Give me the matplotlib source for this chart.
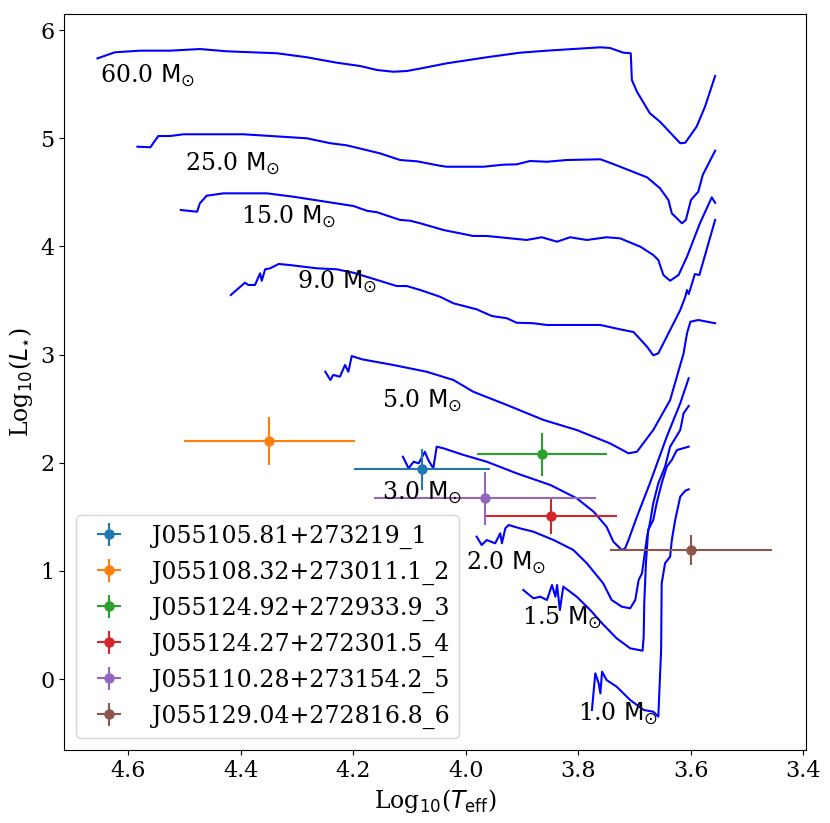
import matplotlib
matplotlib.use("Agg")
import matplotlib.pyplot as plt

plt.rcParams['font.family'] = ['DejaVu Serif']
plt.rcParams['mathtext.fontset'] = 'dejavusans'

# ---------------- evolutionary tracks (log Teff, log L) ----------------
logT_60 = [4.655, 4.624, 4.579, 4.526, 4.473, 4.425, 4.336, 4.283, 4.230, 4.188, 4.158,
           4.129, 4.105, 4.081, 4.034, 3.963, 3.904, 3.856, 3.761, 3.744, 3.720, 3.707,
           3.705, 3.696, 3.673, 3.655, 3.619, 3.610, 3.590, 3.575, 3.557]
logL_60 = [5.738, 5.794, 5.809, 5.809, 5.824, 5.803, 5.785, 5.748, 5.698, 5.667, 5.630,
           5.614, 5.621, 5.644, 5.692, 5.748, 5.790, 5.809, 5.840, 5.834, 5.790, 5.785,
           5.538, 5.430, 5.230, 5.152, 4.953, 4.958, 5.106, 5.291, 5.575]

logT_25 = [4.584, 4.561, 4.547, 4.526, 4.502, 4.396, 4.283, 4.241, 4.212, 4.153, 4.117,
           4.087, 4.046, 4.034, 3.969, 3.933, 3.910, 3.886, 3.856, 3.821, 3.761, 3.738,
           3.678, 3.655, 3.640, 3.634, 3.616, 3.609, 3.600, 3.587, 3.579, 3.557]
logL_25 = [4.921, 4.916, 5.020, 5.020, 5.036, 5.036, 4.999, 4.953, 4.934, 4.860, 4.798,
           4.786, 4.745, 4.736, 4.736, 4.755, 4.758, 4.789, 4.782, 4.798, 4.805, 4.761,
           4.638, 4.537, 4.428, 4.305, 4.213, 4.244, 4.428, 4.505, 4.660, 4.884]

logT_15 = [4.507, 4.478, 4.473, 4.461, 4.431, 4.354, 4.307, 4.200, 4.176, 4.158, 4.117,
           4.099, 4.081, 4.040, 3.987, 3.963, 3.892, 3.865, 3.838, 3.815, 3.785, 3.750,
           3.726, 3.690, 3.667, 3.658, 3.649, 3.637, 3.622, 3.607, 3.584, 3.563, 3.557]
logL_15 = [4.336, 4.320, 4.398, 4.468, 4.490, 4.490, 4.459, 4.373, 4.329, 4.315, 4.244,
           4.237, 4.213, 4.151, 4.096, 4.096, 4.059, 4.084, 4.043, 4.084, 4.059, 4.084,
           4.074, 3.997, 3.920, 3.874, 3.735, 3.682, 3.735, 3.904, 4.213, 4.453, 4.403]

logT_9 = [4.418, 4.393, 4.387, 4.375, 4.366, 4.363, 4.357, 4.348, 4.333, 4.313, 4.265,
          4.230, 4.200, 4.158, 4.123, 4.105, 4.081, 4.046, 4.022, 3.981, 3.954, 3.927,
          3.910, 3.880, 3.856, 3.761, 3.726, 3.702, 3.678, 3.667, 3.658, 3.619, 3.610,
          3.607, 3.604, 3.598, 3.593, 3.585, 3.557]
logL_9 = [3.550, 3.664, 3.643, 3.643, 3.751, 3.682, 3.788, 3.797, 3.837, 3.827, 3.797,
          3.788, 3.756, 3.689, 3.633, 3.633, 3.596, 3.534, 3.473, 3.418, 3.356, 3.335,
          3.294, 3.289, 3.273, 3.273, 3.233, 3.208, 3.072, 2.993, 3.011, 3.411, 3.534,
          3.596, 3.559, 3.658, 3.744, 3.735, 4.244]

logT_5 = [4.250, 4.241, 4.236, 4.224, 4.215, 4.209, 4.203, 4.185, 4.129, 4.070, 4.022,
          3.987, 3.927, 3.862, 3.803, 3.744, 3.711, 3.696, 3.667, 3.637, 3.613, 3.607,
          3.601, 3.587, 3.557]
logL_5 = [2.841, 2.764, 2.811, 2.795, 2.903, 2.841, 2.986, 2.956, 2.903, 2.841, 2.764,
          2.656, 2.533, 2.395, 2.302, 2.179, 2.087, 2.101, 2.302, 2.579, 3.011, 3.196,
          3.303, 3.319, 3.289]

logT_3 = [4.112, 4.102, 4.093, 4.084, 4.073, 4.067, 4.058, 4.052, 4.040, 4.004, 3.963,
          3.910, 3.850, 3.803, 3.773, 3.750, 3.738, 3.723, 3.717, 3.711, 3.696, 3.673,
          3.643, 3.619, 3.604]
logL_3 = [2.055, 1.948, 2.009, 1.994, 2.101, 2.025, 1.948, 2.148, 2.133, 2.071, 2.009,
          1.902, 1.794, 1.671, 1.547, 1.408, 1.270, 1.193, 1.208, 1.285, 1.501, 1.809,
          2.240, 2.549, 2.780]

logT_2 = [3.981, 3.972, 3.963, 3.948, 3.939, 3.936, 3.930, 3.924, 3.904, 3.880, 3.844,
          3.809, 3.785, 3.756, 3.741, 3.723, 3.708, 3.699, 3.693, 3.687, 3.678, 3.673,
          3.667, 3.658, 3.646, 3.637, 3.619, 3.613, 3.604]
logL_2 = [1.316, 1.239, 1.285, 1.255, 1.347, 1.255, 1.393, 1.424, 1.393, 1.362, 1.285,
          1.193, 1.070, 0.885, 0.731, 0.669, 0.654, 0.731, 0.915, 0.977, 1.316, 1.440,
          1.625, 1.809, 1.963, 2.148, 2.302, 2.457, 2.524]

logT_15b = [3.898, 3.880, 3.868, 3.856, 3.847, 3.841, 3.838, 3.833, 3.827, 3.803, 3.779,
            3.758, 3.732, 3.708, 3.686, 3.684, 3.683, 3.680, 3.676, 3.667, 3.661, 3.652,
            3.643, 3.634, 3.625, 3.604]
logL_15b = [0.823, 0.746, 0.761, 0.731, 0.869, 0.761, 0.869, 0.638, 0.854, 0.761, 0.638,
            0.515, 0.376, 0.284, 0.262, 0.391, 0.700, 1.070, 1.378, 1.470, 1.625, 1.809,
            1.963, 2.025, 2.117, 2.148]

logT_1 = [3.776, 3.770, 3.764, 3.761, 3.758, 3.750, 3.732, 3.708, 3.684, 3.667, 3.658,
          3.653, 3.652, 3.646, 3.637, 3.634, 3.628, 3.619, 3.610, 3.604]
logL_1 = [-0.286, 0.053, -0.040, -0.132, 0.068, -0.009, -0.071, -0.194, -0.286, -0.302,
          -0.348, 0.268, 0.885, 1.070, 1.131, 1.285, 1.470, 1.686, 1.741, 1.754]

track_labels = ["60.0", "25.0", "15.0", "9.0", "5.0", "3.0", "2.0", "1.5", "1.0"]
label_x = [4.650, 4.500, 4.400, 4.300, 4.150, 4.150, 4.000, 3.900, 3.800]
label_y = [5.513, 4.699, 4.207, 3.612, 2.512, 1.655, 1.008, 0.506, -0.385]

# ---------------- observed stars ----------------
star_names = ["J055105.81+273219_1", "J055108.32+273011.1_2", "J055124.92+272933.9_3",
              "J055124.27+272301.5_4", "J055110.28+273154.2_5", "J055129.04+272816.8_6"]
star_logT = [4.078, 4.350, 3.865, 3.848, 3.966, 3.599]
star_logT_err = [0.121, 0.152, 0.115, 0.116, 0.197, 0.144]
star_logL = [1.939, 2.203, 2.077, 1.507, 1.671, 1.196]
star_logL_err = [0.19, 0.22, 0.20, 0.17, 0.245, 0.14]

fig = plt.figure(figsize=(8.30, 8.23), dpi=100)
ax = fig.add_axes([0.0775, 0.0887, 0.8932, 0.8943])

tracks = [(logT_60, logL_60), (logT_25, logL_25), (logT_15, logL_15), (logT_9, logL_9),
          (logT_5, logL_5), (logT_3, logL_3), (logT_2, logL_2), (logT_15b, logL_15b),
          (logT_1, logL_1)]
for (tx, ty) in tracks:
    ax.plot(tx, ty, color='blue', lw=1.5)

for lab, lx, ly in zip(track_labels, label_x, label_y):
    ax.text(lx, ly, lab + r" $\mathrm{M_{\odot}}$", fontsize=17, ha='left', va='baseline')

for i in range(len(star_names)):
    ax.errorbar(star_logT[i], star_logL[i], xerr=star_logT_err[i], yerr=star_logL_err[i],
                fmt='o', color=f"C{i}", ms=6.5, elinewidth=1.5, label=star_names[i])

ax.set_xlim(4.714, 3.396)
ax.set_ylim(-0.656, 6.148)
ax.tick_params(labelsize=16)
ax.set_xlabel(r"Log$_{10}$($T_{\rm eff}$)", fontsize=17)
ax.set_ylabel(r"Log$_{10}$($L_{\star}$)", fontsize=17)
ax.legend(loc='lower left', fontsize=17)

fig.savefig("out.png", dpi=100)
